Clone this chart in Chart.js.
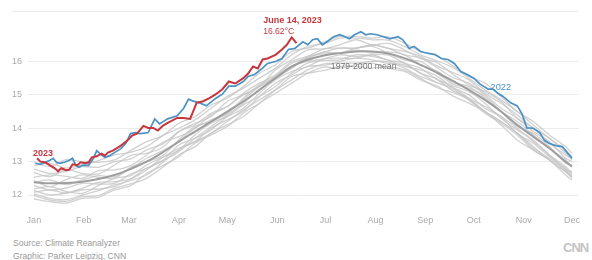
<!DOCTYPE html>
<html>
<head>
<meta charset="utf-8">
<script src="https://cdn.jsdelivr.net/npm/chart.js@4"></script>
<style>
  body { margin: 0; background: #fff; font-family: "Liberation Sans", Arial, sans-serif; }
  #wrap { position: relative; width: 592px; height: 260px; overflow: hidden; }
  #chart { position: absolute; left: 0; top: 0; }
  .credit { position: absolute; left: 13px; font-size: 8.6px; color: #999; white-space: nowrap; }
  #logo { position: absolute; left: 563px; top: 240px; font-size: 13px; font-weight: bold; color: #c4c4c4; letter-spacing: -1px; }
</style>
</head>
<body>
<div id="wrap">
  <canvas id="chart" width="592" height="225"></canvas>
  <div class="credit" style="top:238px">Source: Climate Reanalyzer</div>
  <div class="credit" style="top:251px">Graphic: Parker Leipzig, CNN</div>
  <div id="logo">CNN</div>
</div>
<script>
const monthTicks = [0, 31, 59, 90, 120, 151, 181, 212, 243, 273, 304, 334];
const monthLabels = ["Jan", "Feb", "Mar", "Apr", "May", "Jun", "Jul", "Aug", "Sep", "Oct", "Nov", "Dec"];
const yTicks = [12, 13, 14, 15, 16];

// 2023 daily average (partial year)
const days2023 = [2, 4, 7, 10, 13, 15, 17, 20, 22, 24, 27, 29, 32, 34, 36, 39, 42, 44, 46, 49, 51, 54, 58, 61, 64, 68, 71, 74, 77, 80, 83, 89, 93, 97, 101, 105, 109, 113, 117, 121, 125, 130, 133, 136, 139, 142, 145, 150, 154, 157, 160, 163];
const temps2023 = [13.10, 13.0, 12.98, 12.89, 12.8, 12.71, 12.8, 12.74, 12.76, 12.92, 12.89, 12.98, 12.95, 12.98, 13.13, 13.16, 13.24, 13.18, 13.27, 13.33, 13.39, 13.48, 13.63, 13.78, 13.84, 14.07, 14.01, 14.01, 13.93, 14.07, 14.16, 14.31, 14.31, 14.28, 14.76, 14.81, 14.9, 15.02, 15.17, 15.4, 15.34, 15.5, 15.64, 15.85, 15.79, 16.06, 16.09, 16.2, 16.36, 16.5, 16.72, 16.55];

// 2022
const days2022 = [1, 4, 7, 10, 12, 14, 16, 19, 22, 24, 26, 28, 30, 34, 37, 39, 41, 44, 47, 50, 54, 57, 60, 63, 66, 71, 75, 78, 81, 83, 89, 93, 96, 99, 103, 107, 113, 117, 121, 125, 130, 133, 137, 142, 145, 150, 154, 158, 162, 167, 170, 173, 176, 179, 182, 186, 190, 193, 196, 199, 203, 206, 209, 213, 217, 221, 226, 229, 233, 236, 240, 245, 249, 253, 257, 261, 265, 269, 273, 277, 282, 285, 288, 291, 296, 300, 303, 306, 310, 314, 317, 320, 324, 328, 331, 334];
const temps2022 = [12.95, 12.92, 12.98, 13.04, 13.1, 12.98, 12.95, 12.98, 13.04, 13.1, 12.89, 12.83, 12.89, 12.89, 13.1, 13.33, 13.24, 13.13, 13.18, 13.27, 13.39, 13.54, 13.84, 13.87, 13.84, 13.87, 14.28, 14.13, 14.22, 14.28, 14.37, 14.6, 14.87, 14.81, 14.76, 14.67, 14.9, 15.02, 15.26, 15.26, 15.4, 15.55, 15.61, 15.8, 15.94, 16.0, 16.09, 16.36, 16.39, 16.59, 16.5, 16.65, 16.68, 16.5, 16.59, 16.74, 16.8, 16.74, 16.68, 16.8, 16.89, 16.8, 16.83, 16.8, 16.74, 16.68, 16.74, 16.65, 16.39, 16.45, 16.3, 16.24, 16.21, 16.09, 16.06, 15.94, 15.7, 15.61, 15.5, 15.32, 15.17, 15.17, 15.05, 14.96, 14.76, 14.67, 14.43, 14.01, 14.0, 13.87, 13.63, 13.54, 13.48, 13.45, 13.27, 13.1];

// 1979-2000 mean and individual years (10-day steps)
const greyDays = [0, 10, 20, 30, 40, 50, 60, 70, 80, 90, 100, 110, 120, 130, 140, 150, 160, 170, 180, 190, 200, 210, 220, 230, 240, 250, 260, 270, 280, 290, 300, 310, 320, 330, 334];
const meanTemps = [12.38, 12.35, 12.36, 12.40, 12.48, 12.60, 12.78, 13.00, 13.28, 13.60, 13.90, 14.20, 14.50, 14.80, 15.15, 15.50, 15.85, 16.05, 16.18, 16.25, 16.30, 16.30, 16.24, 16.10, 15.90, 15.67, 15.42, 15.15, 14.85, 14.50, 14.10, 13.75, 13.40, 13.00, 12.85];

const grey1 = [12.03, 11.90, 11.86, 12.00, 12.13, 12.30, 12.43, 12.60, 12.98, 13.35, 13.60, 13.85, 14.20, 14.55, 14.85, 15.15, 15.45, 15.75, 15.93, 15.95, 15.95, 16.00, 15.99, 15.80, 15.55, 15.37, 15.17, 14.85, 14.50, 14.20, 13.85, 13.45, 13.05, 12.70, 12.55];
const grey2 = [12.18, 12.25, 12.11, 12.05, 12.28, 12.50, 12.58, 12.90, 13.13, 13.35, 13.80, 14.15, 14.35, 14.60, 15.05, 15.45, 15.70, 15.85, 16.08, 16.10, 16.10, 16.20, 16.19, 15.95, 15.80, 15.47, 15.27, 15.10, 14.75, 14.30, 13.95, 13.65, 13.20, 12.85, 12.65];
const grey3 = [12.38, 12.45, 12.31, 12.45, 12.58, 12.55, 12.78, 13.10, 13.33, 13.60, 14.00, 14.25, 14.45, 14.85, 15.25, 15.50, 15.80, 16.10, 16.28, 16.25, 16.35, 16.25, 16.29, 16.20, 15.90, 15.72, 15.37, 15.25, 14.90, 14.50, 14.20, 13.80, 13.40, 13.05, 12.85];
const grey4 = [12.88, 12.95, 12.81, 12.90, 13.03, 13.20, 13.28, 13.45, 13.78, 14.00, 14.25, 14.60, 14.95, 15.20, 15.50, 15.80, 16.20, 16.45, 16.53, 16.70, 16.70, 16.65, 16.64, 16.45, 16.20, 16.02, 15.82, 15.50, 15.15, 14.85, 14.50, 14.10, 13.70, 13.35, 13.15];
const grey5 = [12.68, 12.55, 12.76, 12.65, 12.63, 12.90, 13.18, 13.25, 13.43, 13.90, 14.15, 14.35, 14.80, 15.00, 15.25, 15.75, 16.05, 16.35, 16.38, 16.50, 16.65, 16.50, 16.54, 16.35, 16.10, 15.97, 15.62, 15.30, 15.10, 14.80, 14.30, 14.00, 13.55, 13.20, 13.10];
const grey6 = [11.98, 11.85, 11.81, 11.95, 11.98, 12.20, 12.33, 12.50, 12.83, 13.20, 13.45, 13.85, 14.10, 14.35, 14.75, 15.15, 15.55, 15.65, 15.73, 15.85, 15.85, 15.80, 15.84, 15.75, 15.50, 15.22, 15.07, 14.85, 14.45, 14.15, 13.80, 13.35, 13.05, 12.70, 12.50];
const grey7 = [12.28, 12.15, 12.21, 12.35, 12.33, 12.35, 12.63, 12.80, 13.03, 13.50, 13.70, 13.95, 14.35, 14.70, 14.95, 15.25, 15.65, 15.95, 16.03, 16.05, 16.20, 16.15, 16.04, 15.85, 15.75, 15.57, 15.22, 15.00, 14.60, 14.35, 14.00, 13.60, 13.20, 12.75, 12.70];
const grey8 = [12.53, 12.60, 12.56, 12.50, 12.73, 12.75, 12.88, 13.20, 13.58, 13.75, 14.00, 14.40, 14.65, 15.05, 15.35, 15.60, 16.00, 16.15, 16.38, 16.40, 16.40, 16.50, 16.39, 16.20, 16.10, 15.82, 15.52, 15.35, 15.00, 14.60, 14.30, 13.90, 13.60, 13.10, 13.00];
const grey9 = [12.08, 12.15, 12.06, 12.15, 12.18, 12.25, 12.48, 12.80, 13.03, 13.30, 13.70, 14.05, 14.40, 14.75, 15.15, 15.55, 15.95, 16.10, 16.28, 16.40, 16.40, 16.50, 16.39, 16.30, 16.15, 15.87, 15.67, 15.45, 15.05, 14.75, 14.40, 14.00, 13.70, 13.25, 13.05];
const grey10 = [12.78, 12.65, 12.71, 12.85, 12.83, 13.00, 13.08, 13.35, 13.53, 13.90, 14.10, 14.45, 14.65, 15.00, 15.25, 15.55, 15.85, 16.00, 16.08, 16.20, 16.15, 16.20, 16.04, 15.95, 15.65, 15.47, 15.12, 14.90, 14.50, 14.20, 13.85, 13.40, 13.10, 12.75, 12.55];
const grey11 = [11.88, 11.80, 11.76, 11.90, 11.93, 12.15, 12.28, 12.65, 12.88, 13.15, 13.55, 13.80, 14.05, 14.45, 14.75, 15.05, 15.35, 15.65, 15.83, 15.80, 15.90, 15.95, 15.79, 15.70, 15.45, 15.27, 14.97, 14.75, 14.50, 14.10, 13.65, 13.35, 13.05, 12.60, 12.45];
const grey12 = [12.98, 12.85, 13.06, 13.00, 12.98, 13.05, 13.33, 13.60, 13.78, 14.15, 14.35, 14.70, 14.90, 15.25, 15.65, 15.90, 16.30, 16.40, 16.58, 16.75, 16.75, 16.70, 16.74, 16.55, 16.30, 16.17, 15.87, 15.55, 15.35, 14.95, 14.50, 14.20, 13.80, 13.45, 13.25];
const grey13 = [12.43, 12.25, 12.46, 12.60, 12.53, 12.50, 12.83, 13.00, 13.18, 13.65, 14.05, 14.20, 14.45, 14.90, 15.30, 15.55, 15.80, 16.15, 16.23, 16.25, 16.40, 16.45, 16.24, 16.05, 16.00, 15.67, 15.32, 15.20, 14.95, 14.50, 14.05, 13.85, 13.45, 12.95, 12.90];
const grey14 = [12.13, 12.00, 12.06, 12.20, 12.38, 12.40, 12.48, 12.75, 13.13, 13.40, 13.60, 14.00, 14.25, 14.50, 14.95, 15.35, 15.60, 15.85, 15.88, 16.00, 16.10, 16.05, 15.94, 15.90, 15.65, 15.37, 15.22, 14.90, 14.65, 14.35, 13.85, 13.55, 13.15, 12.80, 12.60];

const greySeries = [grey1, grey2, grey3, grey4, grey5, grey6, grey7, grey8, grey9, grey10, grey11, grey12, grey13, grey14];

const RED = "#c9353d";
const BLUE = "#4a92c6";
const MEAN_GREY = "#9e9e9e";
const FONT = "'Liberation Sans', Arial, sans-serif";

function toPoints(xs, ys) {
  return xs.map((x, i) => ({ x, y: ys[i] }));
}

function lineSet(label, xs, ys, color, width, tension) {
  return {
    label,
    data: toPoints(xs, ys),
    borderColor: color,
    borderWidth: width,
    pointRadius: 0,
    tension,
    clip: false
  };
}

const datasets = [
  lineSet("2023", days2023, temps2023, RED, 2, 0),
  lineSet("2022", days2022, temps2022, BLUE, 1.7, 0),
  lineSet("1979-2000 mean", greyDays, meanTemps, MEAN_GREY, 2, 0.4)
].concat(greySeries.map((s, i) => lineSet(`year ${i + 1}`, greyDays, s, "rgba(198,198,198,0.8)", 1.3, 0.3)));

const labelsPlugin = {
  id: "chartLabels",
  beforeDatasetsDraw(chart) {
    const { ctx, chartArea, scales: { y } } = chart;
    const top = y.getPixelForValue(17.5);
    ctx.save();
    ctx.strokeStyle = "#ececec";
    ctx.lineWidth = 1;
    ctx.beginPath();
    ctx.moveTo(12, Math.round(top) + 0.5);
    ctx.lineTo(chartArea.right, Math.round(top) + 0.5);
    ctx.stroke();
    ctx.restore();
  },
  afterDatasetsDraw(chart) {
    const { ctx, scales: { x, y } } = chart;
    const put = (text, day, value, color, weight, size) => {
      ctx.font = `${weight} ${size}px ${FONT}`;
      ctx.fillStyle = color;
      ctx.textAlign = "left";
      ctx.textBaseline = "middle";
      ctx.fillText(text, x.getPixelForValue(day), y.getPixelForValue(value));
    };
    ctx.save();
    put("2023", -0.6, 13.25, RED, "bold", 9);
    put("June 14, 2023", 142.3, 17.24, RED, "bold", 9);
    put("16.62°C", 142.3, 16.89, RED, "normal", 8.6);
    put("2022", 283.5, 15.23, BLUE, "normal", 9.2);
    put("1979-2000 mean", 184.3, 15.85, "#777", "normal", 8.7);
    ctx.restore();
  }
};

new Chart(document.getElementById("chart"), {
  type: "line",
  data: { datasets },
  options: {
    responsive: false,
    animation: false,
    devicePixelRatio: 1,
    layout: { padding: { top: 10, right: 2, left: 0, bottom: 0 } },
    plugins: { legend: { display: false }, tooltip: { enabled: false } },
    scales: {
      x: {
        type: "linear",
        min: -3.65,
        max: 338.3,
        grid: { display: false },
        border: { display: false },
        afterBuildTicks: (scale) => {
          scale.ticks = monthTicks.map((v) => ({ value: v }));
        },
        afterFit: (scale) => {
          scale.height = 30;
        },
        ticks: {
          autoSkip: false,
          maxRotation: 0,
          padding: 12,
          color: "#aaa",
          font: { size: 9, family: FONT },
          callback: (value, index) => monthLabels[index]
        }
      },
      y: {
        min: 12,
        max: 17.5,
        border: { display: false },
        grid: { color: "#ececec", drawTicks: false },
        afterBuildTicks: (scale) => {
          scale.ticks = yTicks.map((v) => ({ value: v }));
        },
        afterFit: (scale) => {
          scale.width = 28;
        },
        ticks: {
          padding: 6,
          color: "#aaa",
          font: { size: 9, family: FONT }
        }
      }
    }
  },
  plugins: [labelsPlugin]
});
</script>
</body>
</html>
